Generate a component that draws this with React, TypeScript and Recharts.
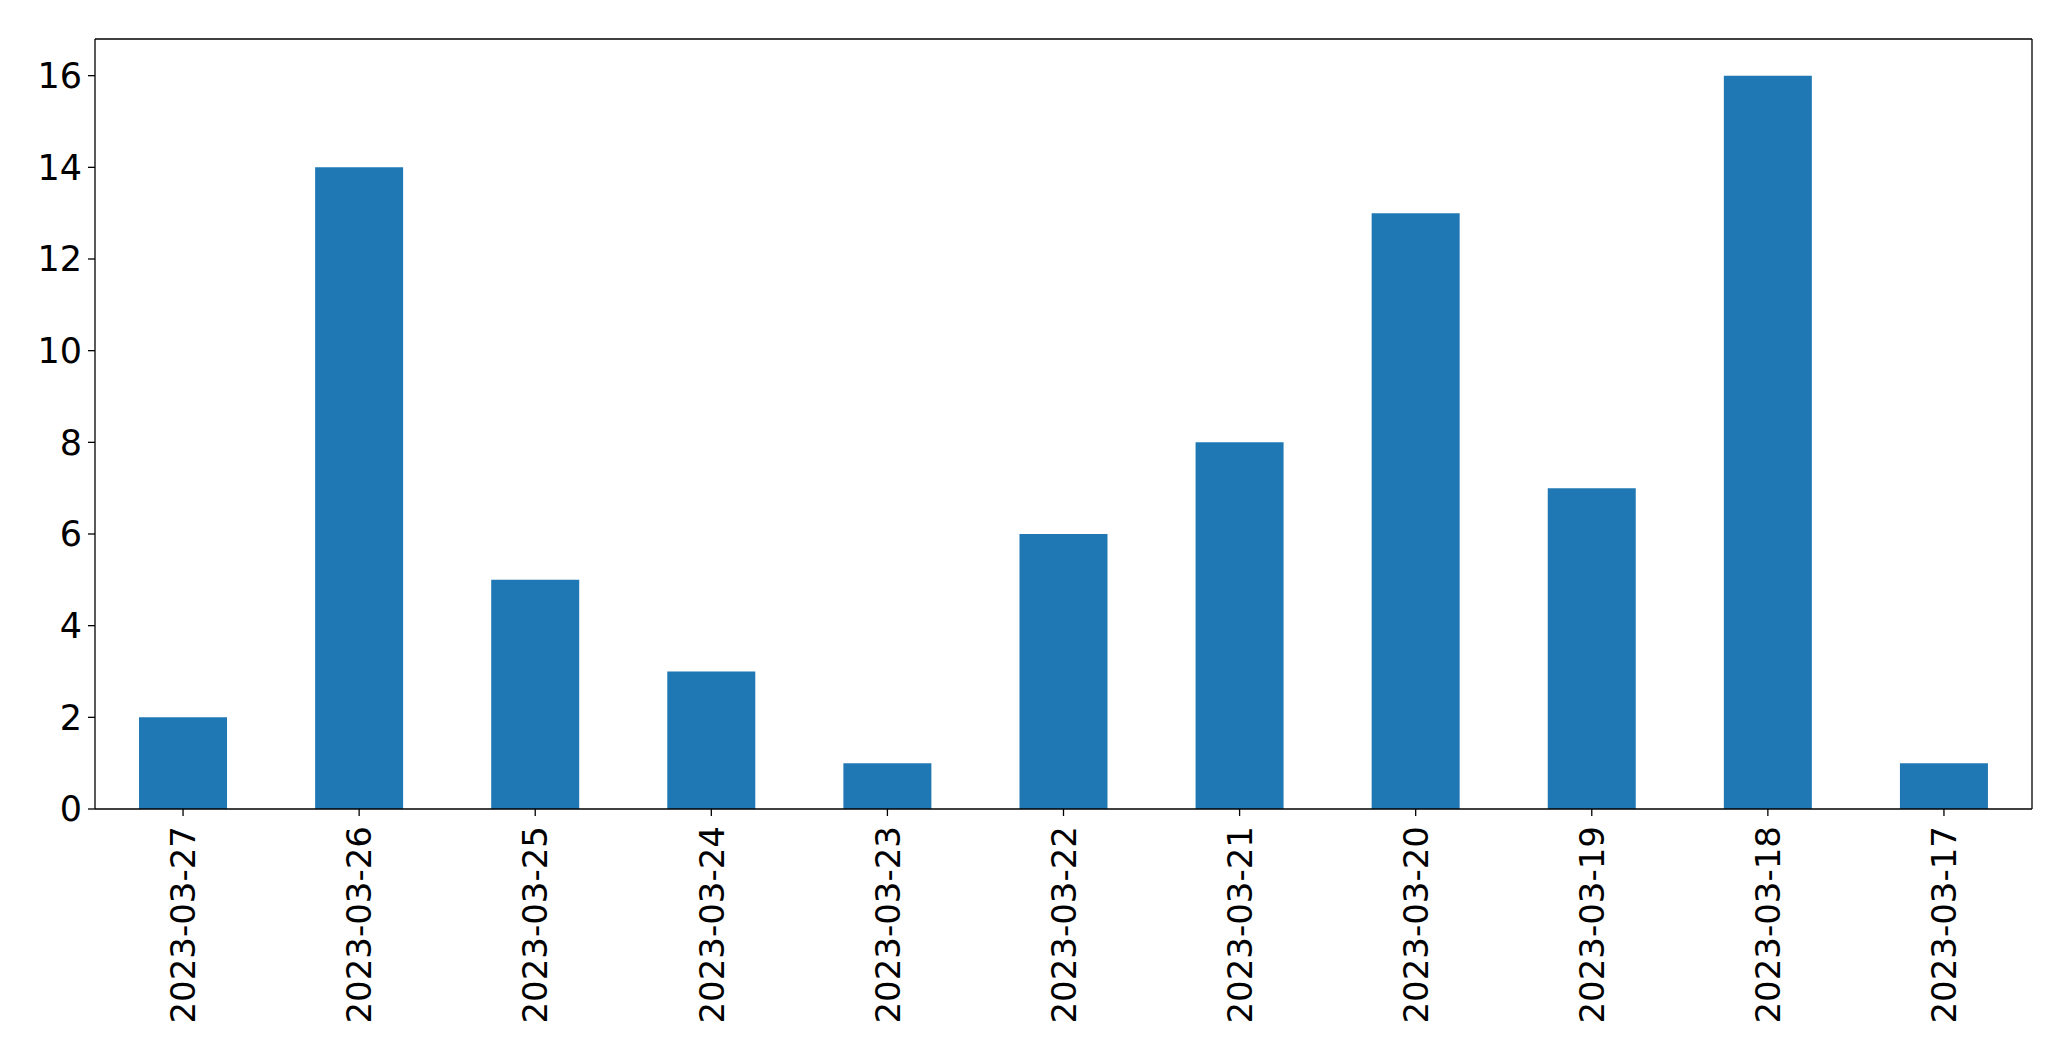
import { Bar, BarChart, CartesianGrid, XAxis, YAxis } from "recharts";

const dates = [
  "2023-03-27", "2023-03-26", "2023-03-25", "2023-03-24", "2023-03-23", "2023-03-22",
  "2023-03-21", "2023-03-20", "2023-03-19", "2023-03-18", "2023-03-17",
];
const counts = [2, 14, 5, 3, 1, 6, 8, 13, 7, 16, 1];
const yTicks = [0, 2, 4, 6, 8, 10, 12, 14, 16];

const data = dates.map((d, i) => ({ date: d, count: counts[i] }));

const FONT = "'DejaVu Sans', sans-serif";

function DateTick(props: any) {
  const { x, y, payload } = props;
  return (
    <g transform={`translate(${x},${y})`}>
      <text
        transform="rotate(-90)"
        x={-10}
        y={0}
        dy="0.36em"
        textAnchor="end"
        fontSize={34}
        fontFamily={FONT}
        fill="#000"
      >
        {payload.value}
      </text>
    </g>
  );
}

export default function App() {
  return (
    <div style={{ position: "fixed", top: 0, left: 0, width: 2071, height: 1061, background: "#fff" }}>
      <BarChart
        width={2071}
        height={1061}
        data={data}
        margin={{ top: 39, right: 39, left: 0, bottom: 0 }}
        barCategoryGap="25%"
      >
        {/* top and right edges of the frame */}
        <CartesianGrid
          stroke="#000"
          strokeWidth={1.3}
          horizontalCoordinatesGenerator={({ offset }: any) => [offset.top]}
          verticalCoordinatesGenerator={({ offset }: any) => [offset.left + offset.width]}
        />
        <XAxis
          dataKey="date"
          height={252}
          interval={0}
          tick={<DateTick />}
          tickSize={7}
          tickMargin={0}
          stroke="#000"
          axisLine={{ stroke: "#000", strokeWidth: 1.3 }}
          tickLine={{ stroke: "#000", strokeWidth: 1.3 }}
        />
        <YAxis
          width={95}
          domain={[0, 16.8]}
          ticks={yTicks}
          interval={0}
          tickSize={7}
          tickMargin={6}
          allowDataOverflow
          axisLine={{ stroke: "#000", strokeWidth: 1.3 }}
          tickLine={{ stroke: "#000", strokeWidth: 1.3 }}
          tick={{ fontSize: 35, fontFamily: FONT, fill: "#000" }}
        />
        <Bar dataKey="count" fill="#1f77b4" isAnimationActive={false} />
      </BarChart>
    </div>
  );
}
